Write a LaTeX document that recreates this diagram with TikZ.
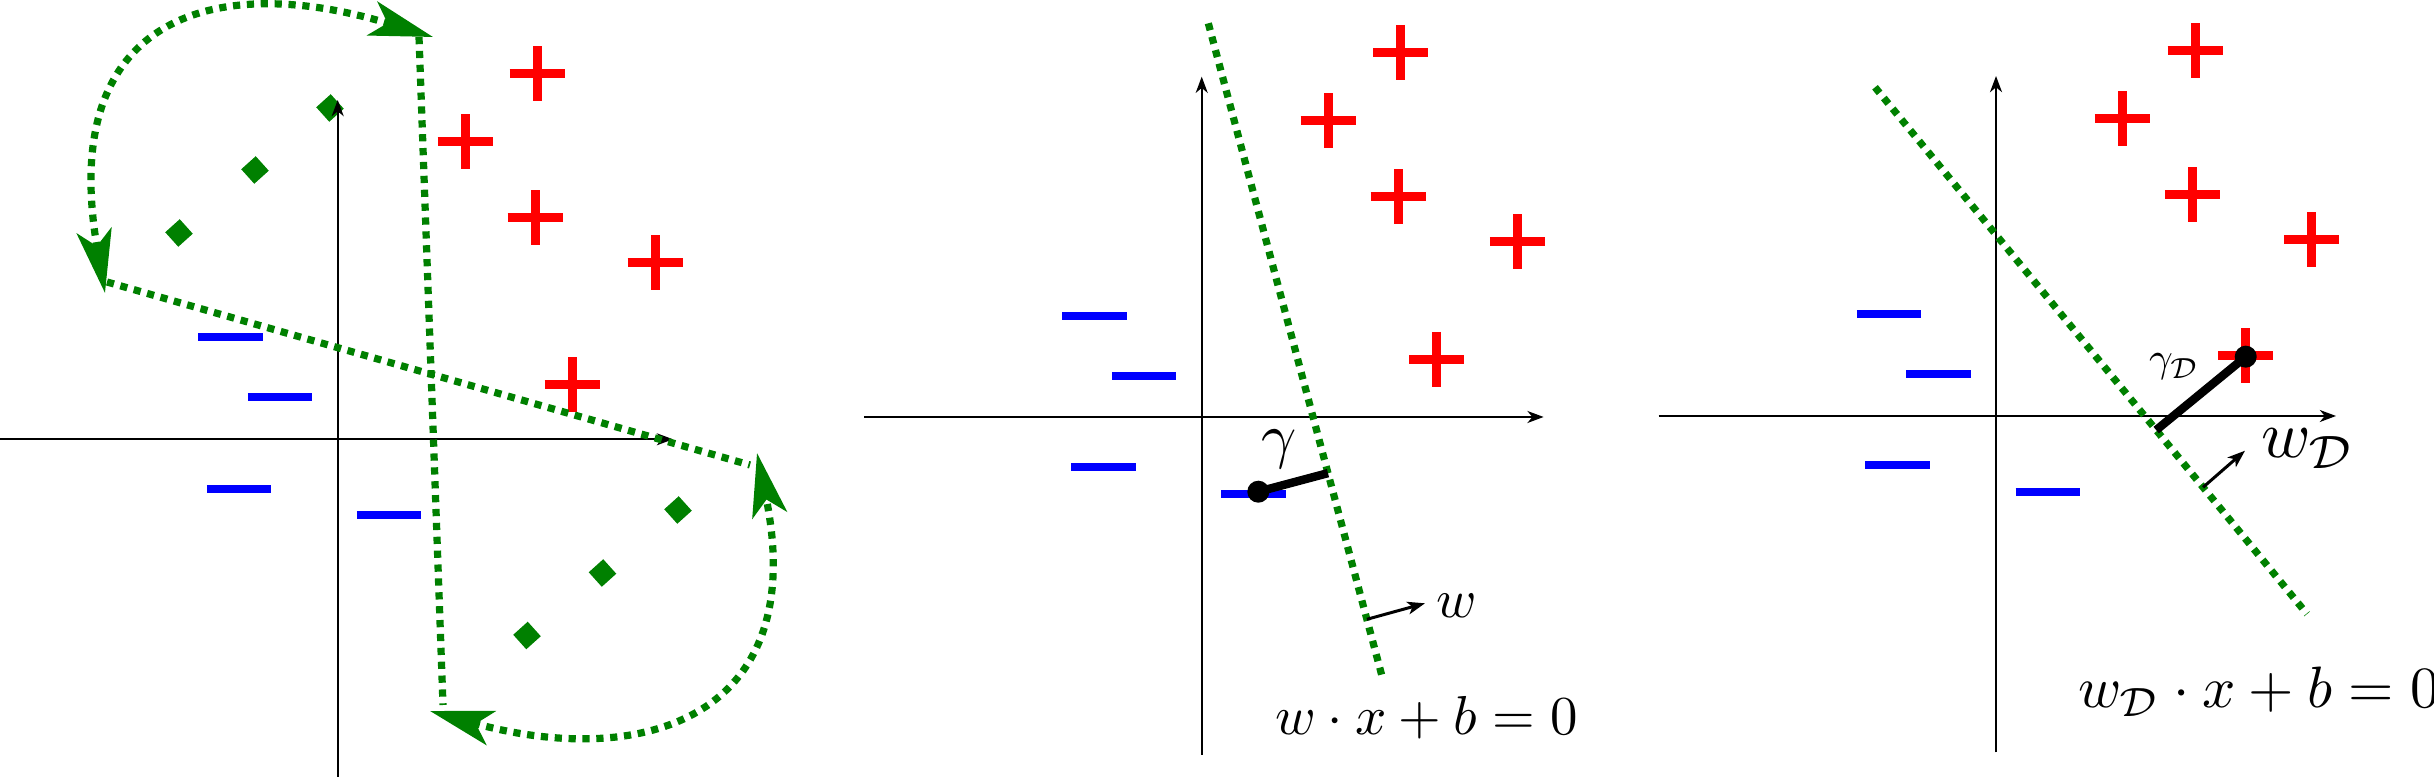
\documentclass[tikz,border=0pt]{standalone}
\usetikzlibrary{arrows.meta,shapes.geometric,calc}
\definecolor{sepgreen}{RGB}{0,128,0}
\tikzset{
  axisline/.style={line width=0.65pt,-{Stealth[length=4.6pt,width=3.4pt,inset=1.4pt]}},
  sepline/.style={sepgreen,line width=2.05pt,dash pattern=on 2.05pt off 1.9pt},
  rotarrow/.style={sepline,{Stealth[length=18pt,width=10pt,inset=4.5pt]}-{Stealth[length=18pt,width=10pt,inset=4.5pt]}},
  marginseg/.style={line width=2.4pt},
  normalvec/.style={line width=0.85pt,-{Stealth[length=5pt,width=3.6pt,inset=1.3pt]}},
  bigdot/.style={circle,fill=black,inner sep=0pt,minimum size=0.22cm},
  diam/.style={rectangle,rotate=42,fill=sepgreen,inner sep=0pt,minimum size=0.195cm},
  lab/.style={inner sep=0pt,outer sep=0pt},
  plusmark/.pic={\draw[red,line width=2.56pt] (-27.5,0)--(27.5,0) (0,-27.5)--(0,27.5);},
  minusmark/.pic={\draw[blue,line width=2.28pt] (-32.25,0)--(32.25,0);},
}
\begin{document}
\begin{tikzpicture}[x=0.01cm,y=-0.01cm]
\useasboundingbox (0,0) rectangle (2434,777);

%% ---------------- left panel ----------------
\node[diam] (d1) at (330,108) {};
\node[diam] (d2) at (255,170) {};
\node[diam] (d3) at (179,233) {};
\node[diam] (d4) at (678,510) {};
\node[diam] (d5) at (602.5,573) {};
\node[diam] (d6) at (527,635.5) {};
\foreach \p in {(537,74),(465,142),(535,218),(655,263),(572,385)} \pic at \p {plusmark};
\foreach \p in {(230.5,337),(280,397),(239,489),(389,515)} \pic at \p {minusmark};
\coordinate (LxA) at (0,439.3);
\coordinate (LxB) at (673,439.3);
\coordinate (LyA) at (337.7,777);
\coordinate (LyB) at (337.7,100);
\draw[axisline] (LxA) -- (LxB);
\draw[axisline] (LyA) -- (LyB);
\coordinate (Vt) at (419,37);
\coordinate (Vb) at (443,705);
\coordinate (St) at (107,282);
\coordinate (Se) at (750,465);
\coordinate (Atop) at (433,37);
\coordinate (Aleft) at (105,293);
\coordinate (Aright) at (757,453);
\coordinate (Abot) at (430,711);
\draw[sepline] (Vt) -- (Vb);
\draw[sepline] (St) -- (Se);
\draw[rotarrow] (Aleft) .. controls (57,17) and (213,-30) .. (Atop);
\draw[rotarrow] (Abot) .. controls (642,770) and (811,718) .. (Aright);

%% ---------------- middle panel ----------------
\foreach \p in {(1400.7,52.3),(1328,120.7),(1398,196.7),(1517.3,242),(1436.7,359.3)} \pic at \p {plusmark};
\foreach \p in {(1094.5,315.7),(1144,375.7),(1103.3,467.3),(1253.5,493.7)} \pic at \p {minusmark};
\coordinate (MxA) at (864,417);
\coordinate (MxB) at (1543.6,417);
\coordinate (MyA) at (1201.7,755);
\coordinate (MyB) at (1201.7,76.7);
\draw[axisline] (MxA) -- (MxB);
\draw[axisline] (MyA) -- (MyB);
\coordinate (T2a) at (1208.3,23.3);
\coordinate (T2b) at (1383,680);
\draw[sepline] (T2a) -- (T2b);
\node[bigdot] (dot2) at (1258.3,491.7) {};
\coordinate (F2) at ($(T2a)!(dot2.center)!(T2b)$);
\draw[marginseg] (dot2.center) -- (F2);
\coordinate (n2a) at ($(T2a)!0.9076!(T2b)$);
\coordinate (n2b) at (1425,603.3);
\draw[normalvec] (n2a) -- (n2b);
\node[lab] (g2) at (1278.8,449.7) {\scalebox{1.75}{$\gamma$}};
\node[lab] (w2) at (1456.7,605.8) {\scalebox{1.55}{$w$}};
\node[lab,anchor=base west] (eq2) at (1275,735) {\scalebox{1.56}{$w\cdot x+b=0$}};

%% ---------------- right panel ----------------
\foreach \p in {(2195,50.7),(2122.3,119),(2192.3,195),(2311.7,240),(2245.7,356)} \pic at \p {plusmark};
\foreach \p in {(1889,314),(1938.5,374),(1897.5,465),(2047.8,491.6)} \pic at \p {minusmark};
\coordinate (RxA) at (1658.7,416);
\coordinate (RxB) at (2336,416);
\coordinate (RyA) at (1996,752.5);
\coordinate (RyB) at (1996,76);
\draw[axisline] (RxA) -- (RxB);
\draw[axisline] (RyA) -- (RyB);
\coordinate (T3a) at (1875,87.3);
\coordinate (T3b) at (2307,614);
\draw[sepline] (T3a) -- (T3b);
\node[bigdot] (dot3) at (2245.7,356.7) {};
\coordinate (F3) at ($(T3a)!(dot3.center)!(T3b)$);
\draw[marginseg] (dot3.center) -- (F3);
\coordinate (n3a) at ($(T3a)!0.7594!(T3b)$);
\coordinate (n3b) at (2245,450.7);
\draw[normalvec] (n3a) -- (n3b);
\node[lab,anchor=base west] (g3) at (2149,372) {\scalebox{1.18}{$\gamma_{\mathcal{D}}$}};
\node[lab,anchor=base west] (w3) at (2261,458) {\scalebox{1.9}{$w_{\mathcal{D}}$}};
\node[lab,anchor=base west] (eq3) at (2078,708) {\scalebox{1.66}{$w_{\mathcal{D}}\cdot x+b=0$}};
\end{tikzpicture}
\end{document}
